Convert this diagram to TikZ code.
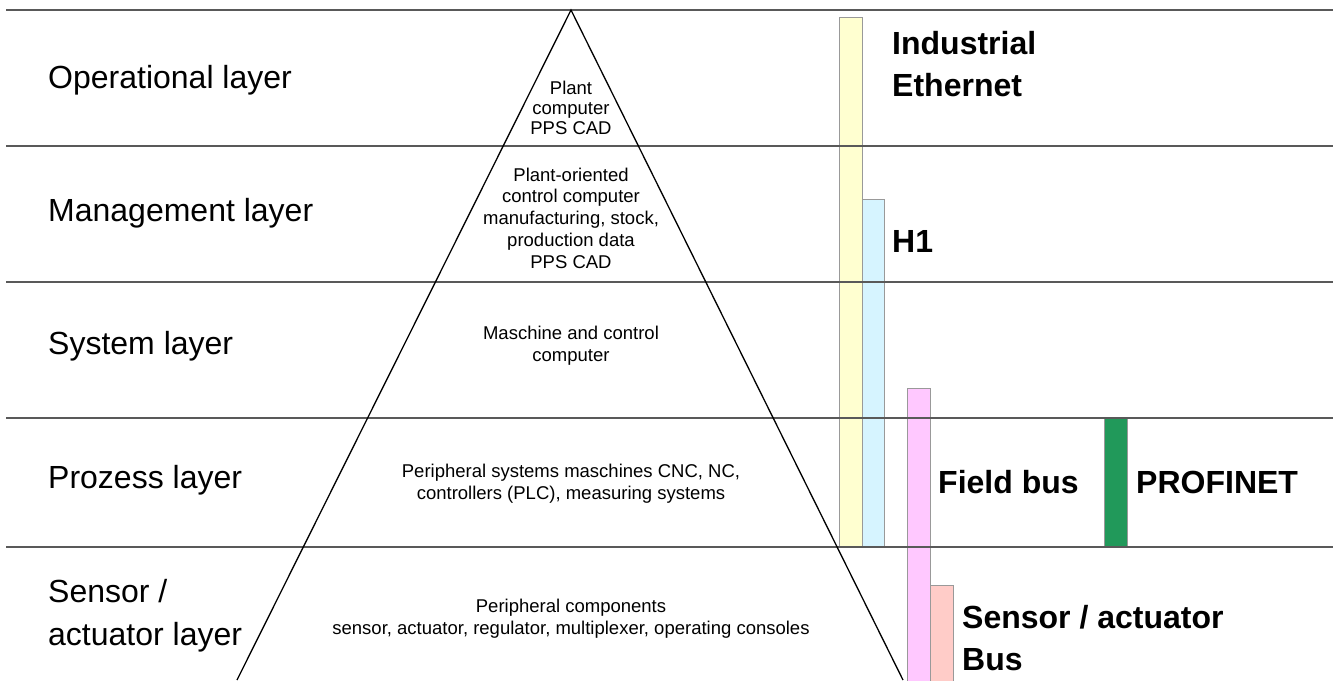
\documentclass[tikz,border=0pt]{standalone}
\usepackage{fontspec}
\setmainfont{Liberation Sans}
\usetikzlibrary{positioning}
\definecolor{ethyellow}{RGB}{255,255,208}
\definecolor{honecyan}{RGB}{214,244,255}
\definecolor{fieldpink}{RGB}{255,200,255}
\definecolor{sensorred}{RGB}{255,204,200}
\definecolor{pnetgreen}{RGB}{33,153,90}

\begin{document}
\begin{tikzpicture}[x=1pt, y=-1pt,
    layer/.style={anchor=west, align=left, inner sep=0pt, font=\fontsize{32}{43}\selectfont},
    info/.style={align=center, inner sep=0pt, font=\fontsize{18.5}{21.8}\selectfont},
    bus/.style={anchor=west, align=left, inner sep=0pt, font=\fontsize{32}{42}\selectfont\bfseries},
    bar/.style={draw=black!40, line width=0.8pt},
    sep/.style={draw=black!65, line width=1.2pt}]
    \useasboundingbox (0,0) rectangle (1333,680);

    % bus bars
    \draw[bar, fill=ethyellow] (839,17) rectangle (862,547);
    \draw[bar, fill=honecyan] (862,199) rectangle (884,547);
    \draw[bar, fill=fieldpink] (907,388) rectangle (930,690);
    \draw[bar, fill=sensorred] (930,585) rectangle (953,690);
    \draw[bar, fill=pnetgreen] (1104,418) rectangle (1127,547);

    % layer borders
    \foreach \y in {10,146,282,418,547}
        \draw[sep] (6,\y) -- (1333,\y);

    % pyramid
    \coordinate (apex) at (571,10);
    \coordinate (baseL) at (237,680);
    \coordinate (baseR) at (903,680);
    \draw[line width=1.3pt] (baseL) -- (apex) -- (baseR);

    \node[layer] (opl) at (48,80) {Operational layer};
    \node[layer] (mgl) at (48,213) {Management layer};
    \node[layer] (sysl) at (48,346) {System layer};
    \node[layer] (prl) at (48,480) {Prozess layer};
    \node[layer] (sal) at (48,616) {Sensor /\\actuator layer};

    \node[info, font=\fontsize{18.5}{20}\selectfont] (opi) at (571,108) {Plant\\computer\\PPS CAD};
    \node[info] (mgi) at (571,218) {Plant-oriented\\control computer\\manufacturing, stock,\\production data\\PPS CAD};
    \node[info] (sysi) at (571,346) {Maschine and control\\computer};
    \node[info] (pri) at (571,484) {Peripheral systems maschines CNC, NC,\\controllers (PLC), measuring systems};
    \node[info] (sai) at (571,619) {Peripheral components\\sensor, actuator, regulator, multiplexer, operating consoles};

    \node[bus] (ie) at (892,64) {Industrial\\Ethernet};
    \node[bus] (hone) at (892,241) {H1};
    \node[bus] (fb) at (938,482) {Field bus};
    \node[bus] (pnet) at (1136,482) {PROFINET};
    \node[bus] (sab) at (962,638) {Sensor / actuator\\Bus};
\end{tikzpicture}
\end{document}
